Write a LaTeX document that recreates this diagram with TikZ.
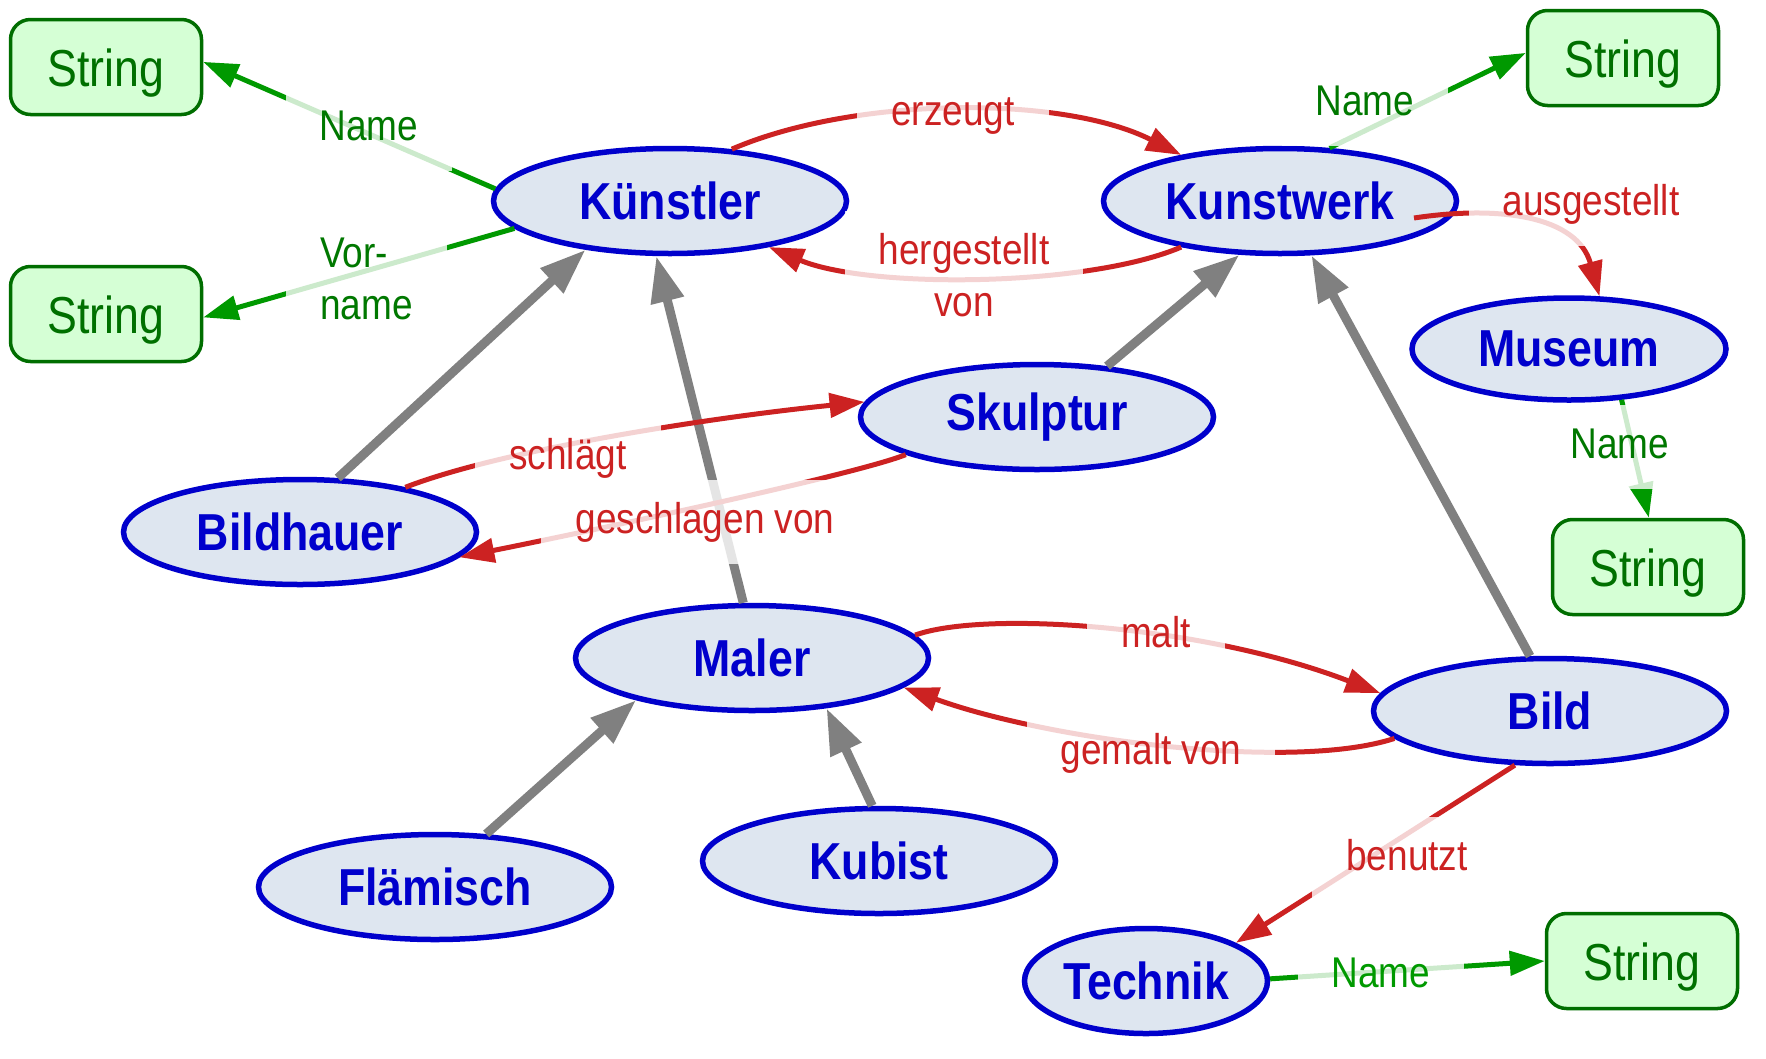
\documentclass[tikz,border=0pt]{standalone}
\usepackage{fontspec}
\setmainfont{Liberation Sans}[FakeStretch=0.86]
\usetikzlibrary{shapes.geometric,arrows.meta}
\definecolor{nodefill}{RGB}{222,230,240}
\definecolor{nodeblue}{RGB}{0,0,204}
\definecolor{strfill}{RGB}{213,255,213}
\definecolor{strdraw}{RGB}{0,110,0}
\definecolor{strtext}{RGB}{0,112,0}
\definecolor{edgegreen}{RGB}{0,153,0}
\definecolor{lblgreen}{RGB}{0,120,0}
\definecolor{edgered}{RGB}{204,34,34}
\definecolor{edgegray}{RGB}{128,128,128}
\begin{document}
\begin{tikzpicture}[x=1pt,y=-1pt,
  obj/.style={ellipse, draw=nodeblue, fill=nodefill, line width=5.5pt,
    minimum width=353pt, minimum height=105pt, inner sep=0pt,
    text=nodeblue, font=\fontsize{52pt}{62pt}\selectfont\bfseries},
  strbox/.style={rectangle, rounded corners=20pt, draw=strdraw, fill=strfill,
    line width=3.5pt, minimum width=191pt, minimum height=95pt, inner sep=0pt,
    text height=38pt, text depth=0pt,
    text=strtext, font=\fontsize{52pt}{62pt}\selectfont},
  isa/.style={draw=edgegray, line width=9pt, -{Triangle[length=46pt,width=32pt]}},
  rel/.style={draw=edgered, line width=5pt, -{Triangle[length=35pt,width=24pt]}},
  attr/.style={draw=edgegreen, line width=5pt, -{Triangle[length=35pt,width=24pt]}},
  lblbox/.style={fill=white, fill opacity=0.8, text opacity=1,
    inner xsep=34pt, inner ysep=22pt, font=\fontsize{43pt}{52pt}\selectfont},
  lbl/.style={lblbox, text height=31pt, text depth=9pt}
]
\fill[white] (0,0) rectangle (1766,1058);
\useasboundingbox (0,0) rectangle (1766,1058);

% nodes
\node[obj] (K)  at (670,201) {Künstler};
\node[obj] (KW) at (1280,201) {Kunstwerk};
\node[obj, minimum width=314pt, minimum height=102pt] (Mu) at (1569,349) {Museum};
\node[obj] (Sk) at (1037,417) {Skulptur};
\node[obj] (Bh) at (300,532) {Bildhauer};
\node[obj] (Ma) at (752,658) {Maler};
\node[obj] (Bi) at (1550,711) {Bild};
\node[obj] (Fl) at (435,887) {Flämisch};
\node[obj] (Ku) at (879,861) {Kubist};
\node[obj, minimum width=243pt] (Te) at (1146,981) {Technik};

\node[strbox] (S1) at (106,67) {String};
\node[strbox] (S2) at (106,314) {String};
\node[strbox] (S3) at (1623,58) {String};
\node[strbox] (S4) at (1648,567) {String};
\node[strbox] (S5) at (1642,961) {String};

\coordinate (aus0) at (1414,218);

% is-a edges
\draw[isa] (Bh.55.6) -- (K.-150.1);
\draw[isa] (Ma.99.6) -- (K.-104.7);
\draw[isa] (Sk.36.6) -- (KW.-127.7);
\draw[isa] (Bi.110.7) -- (KW.-60.7);
\draw[isa] (Fl.46) -- (Ma.-160.6);
\draw[isa] (Ku.97) -- (Ma.-34);

% attribute edges
\draw[attr] (K.176.5) -- (S1.3);
\draw[attr] (K.-170.2) -- (S2.-2);
\draw[attr] (KW.47.8) -- (S3.177);
\draw[attr] (Mu.-44.5) -- (S4.89);
\draw[attr] (Te.1.8) -- (S5.180);

% relation edges
\draw[rel] (K.40) .. controls +(123,-53) and +(-119,-60) .. (KW.155.5);
\draw[rel] (KW.-155.2) .. controls +(-94,40) and +(100,42) .. (K.-25.2);
\draw[rel] (aus0) .. controls +(86,-13) and +(-22,-80) .. (Mu.60);
\draw[rel] (Bh.23.8) .. controls +(98,-38) and +(-150,15) .. (Sk.175.6);
\draw[rel] (Sk.-164.5) .. controls +(-50,20) and +(125,-25) .. (Bh.-9.1);
\draw[rel] (Ma.8) .. controls +(70,-25) and +(-177,-68) .. (Bi.174);
\draw[rel] (Bi.-170.7) .. controls +(-101,33) and +(146,53) .. (Ma.-11.9);
\draw[rel] (Bi.-123.5) -- (Te.23.5);

% labels
\node[lbl, text=lblgreen] (lN1) at (369,129) {Name};
\node[lblbox, text=lblgreen, align=left, anchor=west] (lVor) at (286,279) {Vor-\\name};
\node[lbl, text=edgered] (lerz) at (953,114) {erzeugt};
\node[lblbox, text=edgered, align=center] (lher) at (964,275) {hergestellt\\von};
\node[lbl, text=lblgreen] (lN2) at (1365,104) {Name};
\node[lbl, text=edgered] (laus) at (1591,204) {ausgestellt};
\node[lbl, text=lblgreen] (lN3) at (1620,447) {Name};
\node[lbl, text=edgered] (lsch) at (568,458) {schlägt};
\node[lbl, text=edgered] (lges) at (705,522) {geschlagen von};
\node[lbl, text=edgered] (lmalt) at (1156,636) {malt};
\node[lbl, text=edgered] (lgem) at (1151,753) {gemalt von};
\node[lbl, text=edgered] (lben) at (1407,859) {benutzt};
\node[lbl, text=edgegreen] (lN4) at (1381,976) {Name};
\end{tikzpicture}
\end{document}
